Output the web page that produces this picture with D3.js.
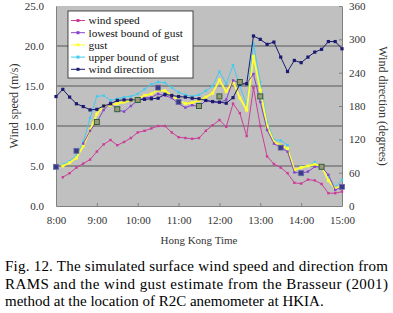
<!DOCTYPE html>
<html>
<head>
<meta charset="utf-8">
<script src="https://cdn.jsdelivr.net/npm/d3@7"></script>
<style>
  body { margin: 0; background: #fff; }
  svg { display: block; font-family: "Liberation Serif", "Times New Roman", serif; }
</style>
</head>
<body>
<div class="canvas"></div>
<script>
const times = ['8:00','8:10','8:20','8:30','8:40','8:50','9:00','9:10','9:20','9:30','9:40','9:50',
  '10:00','10:10','10:20','10:30','10:40','10:50','11:00','11:10','11:20','11:30','11:40','11:50',
  '12:00','12:10','12:20','12:30','12:40','12:50','13:00','13:10','13:20','13:30','13:40','13:50',
  '14:00','14:10','14:20','14:30','14:40','14:50','15:00']
const hourTicks = ['8:00','9:00','10:00','11:00','12:00','13:00','14:00','15:00']
const speedTicks = [0, 5, 10, 15, 20, 25]
const dirTicks = [0, 60, 120, 180, 240, 300, 360]

const windSpeed = [null, 3.6, 4.1, 4.8, 5.3, 5.8, 6.8, 7.7, 8.25, 7.6, 8.0, 8.5, 9.2, 9.4, 9.7, 10.0, 10.0,
  9.2, 8.6, 8.5, 8.4, 8.5, 9.4, 10.1, 10.75, 9.9, 12.8, 11.6, 8.75, 14.8, 10.0, 6.2, 5.25, 4.8, 4.1,
  2.9, 2.8, 3.3, 3.2, 2.75, 1.6, 1.6, 1.8]
const lowestGust = [null, null, null, null, 7.8, 9.4, 10.5, 12.0, 12.9, 12.0, 11.8, 12.5, 13.2, 13.5, 13.6,
  14.0, 13.8, 13.5, 12.8, 12.3, 12.6, 12.4, 13.2, 13.0, 12.9, 13.3, 15.7, 15.4, 15.3, 16.5, 13.0, 9.5,
  7.8, 7.3, 6.8, 4.2, 4.1, 4.3, 4.9, 4.9, 3.9, 2.0, 2.4]
const gust = [null, 5.0, 5.4, 6.0, 7.5, 9.5, 11.5, 12.5, 12.6, 12.8, 13.0, 13.2, 13.4, 13.8, 14.0, 14.5,
  14.4, 13.8, 13.2, 12.8, 12.9, 13.2, 13.6, 14.1, 15.75, 14.3, 15.6, 13.5, 12.0, 18.7, 14.5, 10.0, 8.0,
  7.6, 7.2, 4.5, 4.8, 5.0, 5.2, 5.0, 3.2, 2.2, 2.5]
const upperGust = [null, 5.2, 5.6, 6.3, 8.0, 11.0, 13.7, 13.8, 13.2, 13.4, 13.6, 13.7, 14.0, 14.6, 15.2,
  15.5, 15.4, 14.8, 14.2, 13.9, 13.7, 13.9, 14.4, 15.0, 16.8, 15.3, 17.6, 15.0, 12.6, 20.3, 15.5, 10.5,
  8.25, 8.2, 7.6, 4.3, 4.9, 4.9, 5.5, 4.7, 3.7, 2.4, 3.25]
const windDir = [197, 210, 196, 184, 179, 173, 174, 180, 184, 190, 191, 191, 191, 192, 193, 194, 201, 199,
  197, 196, 194, 193, 190, 188, 187, 185, 195, 219, 220, 306, 300, 291, 295, 268, 242, 262, 258, 268,
  277, 282, 296, 296, 283]

// squares without a legend entry (observations)
const obsFilledTimes = ['8:00','8:30','10:30','11:00','13:30','14:00','15:00']
const obsFilled = [4.9, 6.9, 14.8, 13.0, 7.3, 4.1, 2.4]
const obsOpenTimes = ['9:00','9:30','10:00','11:30','12:00','12:30','13:00','14:30']
const obsOpen = [10.5, 12.1, 13.25, 12.5, 13.7, 15.5, 13.7, 4.9]

const legendNames = ['wind speed', 'lowest bound of gust', 'gust', 'upper bound of gust', 'wind direction']

const captionLines = [
  'Fig. 12. The simulated surface wind speed and direction from',
  'RAMS and the wind gust estimate from the Brasseur (2001)',
  'method at the location of R2C anemometer at HKIA.'
]

const dims = { width: 393, height: 313 }
const plot = { left: 56, right: 342, top: 6, bottom: 206 }

const toMin = s => { const [h, m] = s.split(':').map(Number); return (h - 8) * 60 + m }

const svg = d3.select('.canvas').append('svg')
  .attr('width', dims.width)
  .attr('height', dims.height)

const x = d3.scaleLinear().domain([0, 420]).range([plot.left, plot.right])
const y = d3.scaleLinear().domain([0, 25]).range([plot.bottom, plot.top])
const yDir = d3.scaleLinear().domain([0, 360]).range([plot.bottom, plot.top])

// plot area
svg.append('rect')
  .attr('x', plot.left).attr('y', plot.top)
  .attr('width', plot.right - plot.left).attr('height', plot.bottom - plot.top)
  .attr('fill', '#c0c0c0')

// grid lines
svg.append('g').selectAll('line')
  .data(speedTicks.filter(d => d > 0 && d < 25))
  .join('line')
  .attr('x1', plot.left).attr('x2', plot.right)
  .attr('y1', d => y(d)).attr('y2', d => y(d))
  .attr('stroke', '#3c3c3c').attr('stroke-width', 0.8)

// axes
const xAxis = svg.append('g')
  .attr('transform', `translate(0, ${plot.bottom})`)
  .call(d3.axisBottom(x).tickValues(hourTicks.map(toMin)).tickFormat((d, i) => hourTicks[i]).tickSizeInner(-3).tickSizeOuter(0).tickPadding(10))
const yAxis = svg.append('g')
  .attr('transform', `translate(${plot.left}, 0)`)
  .call(d3.axisLeft(y).tickValues(speedTicks).tickFormat(d3.format('.1f')).tickSizeInner(0).tickSizeOuter(0).tickPadding(12))
const yAxisR = svg.append('g')
  .attr('transform', `translate(${plot.right}, 0)`)
  .call(d3.axisRight(yDir).tickValues(dirTicks).tickSizeInner(-3).tickSizeOuter(0).tickPadding(7))

;[xAxis, yAxis, yAxisR].forEach(a => {
  a.attr('font-family', '"Liberation Serif", serif')
  a.select('.domain').attr('stroke', '#808080')
  a.selectAll('.tick line').attr('stroke', '#808080')
  a.selectAll('text').attr('font-size', 11).attr('fill', '#333')
})

// series
const line = d3.line()
  .defined(d => d.v != null)
  .x(d => x(toMin(d.t)))

const series = [
  { name: legendNames[0], values: windSpeed, color: '#cc3d99', scale: y, r: 1.2 },
  { name: legendNames[1], values: lowestGust, color: '#8844cc', scale: y, r: 1.2 },
  { name: legendNames[2], values: gust, color: '#ffff33', scale: y, r: 1.5, w: 1.8 },
  { name: legendNames[3], values: upperGust, color: '#44ccee', scale: y, r: 1.2 },
  { name: legendNames[4], values: windDir, color: '#1a1a70', scale: yDir, r: 1.6 }
]

const drawOrder = [3, 2, 1, 0, 4]
drawOrder.forEach(k => {
  const s = series[k]
  const pts = s.values.map((v, i) => ({ t: times[i], v }))
  svg.append('path')
    .datum(pts)
    .attr('fill', 'none')
    .attr('stroke', s.color)
    .attr('stroke-width', s.w || 1)
    .attr('d', line.y(d => s.scale(d.v)))
  svg.append('g').selectAll('rect')
    .data(pts.filter(d => d.v != null))
    .join('rect')
    .attr('x', d => x(toMin(d.t)) - s.r)
    .attr('y', d => s.scale(d.v) - s.r)
    .attr('width', s.r * 2).attr('height', s.r * 2)
    .attr('fill', s.color)
})

svg.append('g').selectAll('rect')
  .data(obsOpen.map((v, i) => ({ t: obsOpenTimes[i], v })))
  .join('rect')
  .attr('x', d => x(toMin(d.t)) - 2.5)
  .attr('y', d => y(d.v) - 2.5)
  .attr('width', 5).attr('height', 5)
  .attr('fill', '#9a9a7a')
  .attr('stroke', '#2f5f3f').attr('stroke-width', 1)

svg.append('g').selectAll('rect')
  .data(obsFilled.map((v, i) => ({ t: obsFilledTimes[i], v })))
  .join('rect')
  .attr('x', d => x(toMin(d.t)) - 2.5)
  .attr('y', d => y(d.v) - 2.5)
  .attr('width', 5).attr('height', 5)
  .attr('fill', '#3a3a88')
  .attr('stroke', '#6a6ab0').attr('stroke-width', 0.8)

// legend
const legend = svg.append('g').attr('transform', 'translate(68, 11)')
legend.append('rect')
  .attr('width', 125).attr('height', 67)
  .attr('fill', '#fff').attr('stroke', '#222').attr('stroke-width', 0.8)
series.forEach((s, i) => {
  const g = legend.append('g').attr('transform', `translate(0, ${9.5 + i * 12.2})`)
  g.append('line').attr('x1', 3).attr('x2', 17).attr('stroke', s.color).attr('stroke-width', 1)
  g.append('rect').attr('x', 8.5).attr('y', -1.5).attr('width', 3).attr('height', 3).attr('fill', s.color)
  g.append('text').attr('x', 20.5).attr('y', 3.8).attr('font-size', 11.3).attr('fill', '#111').text(s.name)
})

// axis titles
svg.append('text')
  .attr('transform', `translate(18, ${(plot.top + plot.bottom) / 2}) rotate(-90)`)
  .attr('text-anchor', 'middle').attr('font-size', 12).attr('fill', '#333')
  .text('Wind speed (m/s)')
svg.append('text')
  .attr('transform', `translate(379, ${(plot.top + plot.bottom) / 2}) rotate(90)`)
  .attr('text-anchor', 'middle').attr('font-size', 12).attr('fill', '#333')
  .text('Wind direction (degrees)')
svg.append('text')
  .attr('x', (plot.left + plot.right) / 2).attr('y', 244)
  .attr('text-anchor', 'middle').attr('font-size', 11).attr('fill', '#333')
  .text('Hong Kong Time')

// caption
captionLines.forEach((t, i) => {
  const txt = svg.append('text')
    .attr('x', 5).attr('y', 271 + i * 17.5)
    .attr('font-size', 15).attr('fill', '#000')
    .text(t)
  if (i < 2) txt.attr('textLength', 383).attr('lengthAdjust', 'spacing')
})
</script>
</body>
</html>
